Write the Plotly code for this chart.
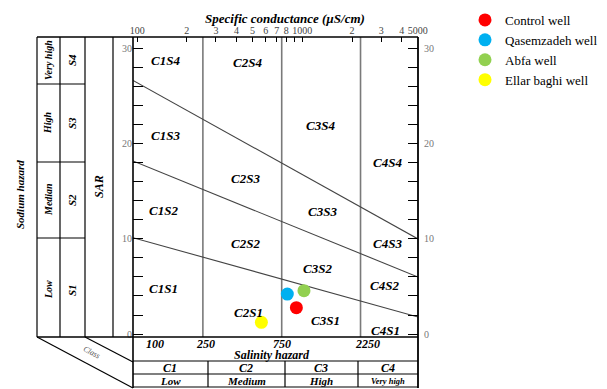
import plotly.graph_objects as go
import numpy as np

# ---------------- data ----------------
wells = ["Control well", "Qasemzadeh well", "Abfa well", "Ellar baghi well"]
ec_values = [920, 811, 1023, 565]          # specific conductance (uS/cm)
sar_values = [2.77, 4.2, 4.56, 1.23]       # sodium adsorption ratio
well_colors = ["#ff0000", "#00b0f0", "#92d050", "#ffff00"]

class_bounds_ec = [250, 750, 2250]          # salinity class boundaries
sodium_line_ec = [100, 5000]
sodium_line_sar = [[10, 1.8], [18, 6], [26.4, 10]]   # S1/S2, S2/S3, S3/S4

top_tick_vals = [100, 200, 300, 400, 500, 600, 700, 800, 900, 1000, 2000, 3000, 4000, 5000]
top_tick_text = ["100", "2", "3", "4", "5", "6", "7", "8", "", "1000", "2", "3", "4", "5000"]
sar_tick_vals = list(range(0, 31, 2))
sar_tick_text = [str(v) if v % 10 == 0 else "" for v in sar_tick_vals]

# ---------------- layout geometry (page pixels) ----------------
OFF = 8                      # default body margin of the page
W, H = 607 - OFF, 389 - OFF
L, R, T, B = 133, 418, 37, 337
XR = [1.975, 3.7]            # log10 range
YR = [-0.31, 31.2]

def fx(p):
    return (p - L) / (R - L)

def fy(p):
    return (B - p) / (B - T)

SERIF = "Liberation Serif"

fig = go.Figure()

# class boundary verticals
for ec in class_bounds_ec:
    fig.add_trace(go.Scatter(x=[ec, ec], y=YR, mode="lines",
                             line=dict(color="#7a7a7a", width=1.6),
                             showlegend=False, hoverinfo="skip"))

# sodium hazard diagonals (extended to axis edges in log space)
lx0, lx1 = np.log10(sodium_line_ec[0]), np.log10(sodium_line_ec[1])
for s0, s1 in sodium_line_sar:
    slope = (s1 - s0) / (lx1 - lx0)
    xa, xb = XR
    ya = s0 + slope * (xa - lx0)
    yb = s0 + slope * (xb - lx0)
    fig.add_trace(go.Scatter(x=[10 ** xa, 10 ** xb], y=[ya, yb], mode="lines",
                             line=dict(color="#444444", width=1.1),
                             showlegend=False, hoverinfo="skip"))

# right axis helper trace
fig.add_trace(go.Scatter(x=[10 ** XR[0]], y=[0], yaxis="y2", mode="markers",
                         marker=dict(opacity=0), showlegend=False, hoverinfo="skip"))

# wells
for name, x, y, c in zip(wells, ec_values, sar_values, well_colors):
    fig.add_trace(go.Scatter(x=[x], y=[y], mode="markers", name=name,
                             marker=dict(color=c, size=13, line=dict(width=0))))

shapes = []

def line(x0, y0, x1, y1, color="black", width=1.2):
    shapes.append(dict(type="line", xref="paper", yref="paper",
                       x0=fx(x0), y0=fy(y0), x1=fx(x1), y1=fy(y1),
                       line=dict(color=color, width=width), layer="above"))

# left table
for x in [37, 60, 85, 113]:
    line(x, 37, x, 337)
for y in [84, 162, 238]:
    line(37, y, 85, y)
line(37, 37, 418, 37, width=1.6)
line(37, 337, 418, 337, width=1.6)
line(133, 37, 133, 388, width=1.6)
line(418, 37, 418, 388, width=1.8)
# class diagonals
line(37, 337, 133, 388)
line(85, 337, 133, 362)
# bottom table
for y in [361, 374, 387]:
    line(133, y, 418, y)
for x in [208, 285, 358]:
    line(x, 361, x, 387)

ann = []

def text(t, x, y, size=12, color="black", angle=0, bold=True, italic=True, xanchor="center"):
    s = t
    if italic:
        s = "<i>" + s + "</i>"
    if bold:
        s = "<b>" + s + "</b>"
    ann.append(dict(text=s, x=fx(x), y=fy(y), xref="paper", yref="paper",
                    showarrow=False, xanchor=xanchor, yanchor="middle",
                    textangle=angle, font=dict(family=SERIF, size=size, color=color)))

# region labels
regions = [
    ("C1S4", 165, 61), ("C2S4", 247, 62), ("C3S4", 320, 125), ("C4S4", 387, 162),
    ("C1S3", 165, 135), ("C2S3", 245, 178), ("C3S3", 322, 212), ("C4S3", 387, 243),
    ("C1S2", 163, 210), ("C2S2", 245, 243), ("C3S2", 317, 268), ("C4S2", 384, 285),
    ("C1S1", 163, 288), ("C2S1", 248, 312), ("C3S1", 325, 320), ("C4S1", 385, 330),
]
for t, x, y in regions:
    text(t, x, y, size=13)

# top title
text("Specific conductance (µS/cm)", 285, 19, size=13)

# left table texts
text("Sodium hazard", 20, 195, size=11, angle=-90)
text("Very high", 48, 60, size=10, angle=-90)
text("S4", 72, 60, size=11, angle=-90)
text("High", 48, 123, size=10, angle=-90)
text("S3", 72, 123, size=11, angle=-90)
text("Median", 48, 200, size=10, angle=-90)
text("S2", 72, 200, size=11, angle=-90)
text("Low", 48, 290, size=10, angle=-90)
text("S1", 72, 290, size=11, angle=-90)
text("SAR", 99, 187, size=12, angle=-90)
text("Class", 92, 352, size=8, angle=28, bold=False, color="#555")

# bottom table texts
for t, x in [("100", 155), ("250", 205), ("750", 282), ("2250", 367)]:
    text(t, x, 343.5, size=12)
text("Salinity hazard", 272, 354.5, size=12)
for t, x in [("C1", 170), ("C2", 246), ("C3", 321), ("C4", 388)]:
    text(t, x, 367.5, size=12)
for t, x, s in [("Low", 170, 11), ("Medium", 246, 11), ("High", 321, 11), ("Very high", 388, 8.5)]:
    text(t, x, 380.5, size=s)

fig.update_layout(
    width=W, height=H,
    margin=dict(l=L - OFF, r=W - (R - OFF), t=T - OFF, b=H - (B - OFF), pad=0,
                autoexpand=False),
    paper_bgcolor="white", plot_bgcolor="white",
    shapes=shapes, annotations=ann,
    xaxis=dict(type="log", range=XR, side="top", showgrid=False, zeroline=False,
               tickmode="array", tickvals=top_tick_vals, ticktext=top_tick_text,
               ticks="inside", ticklen=5, tickwidth=1.3, tickcolor="black",
               tickfont=dict(family=SERIF, size=10, color="#444"), showline=False),
    yaxis=dict(range=YR, showgrid=False, zeroline=False,
               tickmode="array", tickvals=sar_tick_vals, ticktext=sar_tick_text,
               ticks="inside", ticklen=10, tickwidth=1.3, tickcolor="black",
               tickfont=dict(family=SERIF, size=10, color="#777"), showline=False),
    yaxis2=dict(range=YR, overlaying="y", side="right", showgrid=False, zeroline=False,
                tickmode="array", tickvals=sar_tick_vals, ticktext=sar_tick_text,
                ticks="inside", ticklen=10, tickwidth=1.3, tickcolor="black",
                ticklabelstandoff=5,
                tickfont=dict(family=SERIF, size=10, color="#777"), showline=False),
    legend=dict(x=fx(465), y=fy(5), xanchor="left", yanchor="top",
                font=dict(family=SERIF, size=13, color="black"),
                bgcolor="rgba(0,0,0,0)", tracegroupgap=0, itemsizing="trace"),
    showlegend=True,
)

fig.write_html("out.html")
